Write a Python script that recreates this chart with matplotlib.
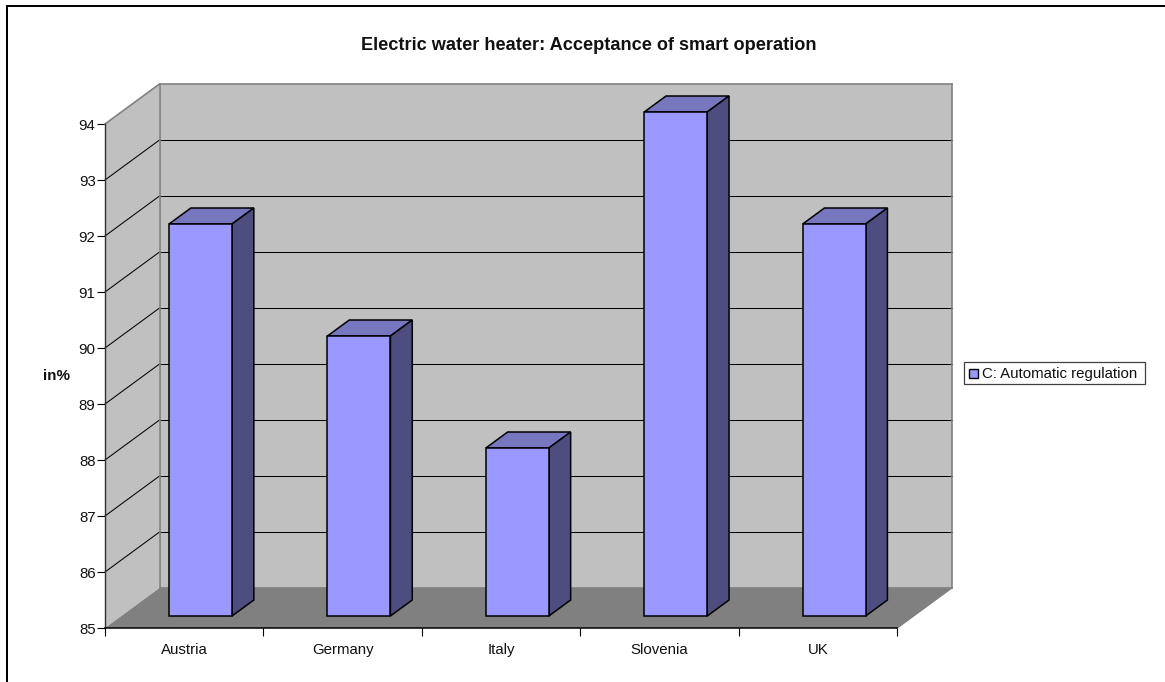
import matplotlib
matplotlib.use("Agg")
import matplotlib.pyplot as plt
from matplotlib.patches import Polygon, Rectangle

plt.rcParams["font.family"] = ["Liberation Sans", "DejaVu Sans"]

countries = ["Austria", "Germany", "Italy", "Slovenia", "UK"]
acceptance = [92, 90, 88, 94, 92]
value_ticks = [85, 86, 87, 88, 89, 90, 91, 92, 93, 94]
title = "Electric water heater: Acceptance of smart operation"
series_name = "C: Automatic regulation"
y_label = "in%"

WALL = "#c0c0c0"
FLOOR = "#808080"
EDGE = "#808080"
BAR_FRONT = "#9999ff"
BAR_TOP = "#7777bf"
BAR_SIDE = "#4d4d80"
TEXT = "#111111"

W, H = 1165, 682
fig = plt.figure(figsize=(W / 100, H / 100), dpi=100, facecolor="white")

# Frame around the chart area, open on the right and at the bottom
frame = fig.add_axes([0, 0, 1, 1], zorder=0)
frame.set_xlim(0, W)
frame.set_ylim(H, 0)
frame.axis("off")
frame.plot([7, 7, W], [H, 6, 6], color="black", lw=1.45, solid_capstyle="butt",
           solid_joinstyle="miter")

# Main axes cover the front plane of the oblique box
left, right, bottom, top = 105, 897, 628, 124
ax = fig.add_axes([left / W, 1 - bottom / H, (right - left) / W, (bottom - top) / H], zorder=1)
ax.set_xlim(0, len(countries))
ax.set_ylim(value_ticks[0], value_ticks[-1])
ax.patch.set_visible(False)

# Depth is an oblique shift: full depth moves 54.5 px right and 40 px up
px_x = len(countries) / (right - left)
px_y = (value_ticks[-1] - value_ticks[0]) / (bottom - top)
DX, DY = 54.5 * px_x, 40 * px_y


def at(x, y, depth):
    return x + depth * DX, y + depth * DY


def face(points, color, z, edge="none", lw=0.0):
    ax.add_patch(Polygon(points, closed=True, facecolor=color, edgecolor=edge, linewidth=lw,
                         joinstyle="miter", zorder=z, clip_on=False))


def segment(a, b, color, lw, z):
    xs, ys = zip(a, b)
    ax.plot(xs, ys, color=color, lw=lw, zorder=z, clip_on=False)


x0, x1 = 0, len(countries)
y0, y1 = value_ticks[0], value_ticks[-1]

# Walls and floor
face([at(x0, y0, 1), at(x1, y0, 1), at(x1, y1, 1), at(x0, y1, 1)], WALL, 1)
face([at(x0, y0, 0), at(x0, y0, 1), at(x0, y1, 1), at(x0, y1, 0)], WALL, 1)
face([at(x0, y0, 0), at(x1, y0, 0), at(x1, y0, 1), at(x0, y0, 1)], FLOOR, 1)

# Gridlines run along the side wall and across the back wall
for v in value_ticks[1:-1]:
    segment(at(x0, v, 0), at(x0, v, 1), "black", 0.75, 2)
    segment(at(x0, v, 1), at(x1, v, 1), "black", 0.75, 2)

# Grey outlines of the box
for a, b in [((x0, y0, 1), (x0, y1, 1)), ((x0, y1, 0), (x0, y1, 1)), ((x0, y1, 1), (x1, y1, 1)),
             ((x1, y1, 1), (x1, y0, 1)), ((x0, y0, 1), (x1, y0, 1)), ((x1, y0, 1), (x1, y0, 0))]:
    segment(at(*a), at(*b), EDGE, 1.2, 3)

# Columns sit between 30% and 70% of the box depth
BAR_WIDTH = 63 * px_x
D_FRONT, D_BACK = 0.30, 0.70
for i, value in enumerate(acceptance):
    a = i + 0.5 - BAR_WIDTH / 2
    b = i + 0.5 + BAR_WIDTH / 2
    outline = dict(edge="black", lw=1.1)
    face([at(a, value, D_FRONT), at(b, value, D_FRONT), at(b, value, D_BACK), at(a, value, D_BACK)],
         BAR_TOP, 4 + i * 0.1, **outline)
    face([at(b, y0, D_FRONT), at(b, y0, D_BACK), at(b, value, D_BACK), at(b, value, D_FRONT)],
         BAR_SIDE, 4 + i * 0.1, **outline)
    face([at(a, y0, D_FRONT), at(b, y0, D_FRONT), at(b, value, D_FRONT), at(a, value, D_FRONT)],
         BAR_FRONT, 4 + i * 0.1, **outline)

# Axis lines and ticks
for side in ("top", "right"):
    ax.spines[side].set_visible(False)
ax.spines["left"].set_color("#303030")
ax.spines["bottom"].set_color("black")
ax.spines["left"].set_linewidth(1.0)
ax.spines["bottom"].set_linewidth(1.1)
ax.spines["left"].set_zorder(6)
ax.spines["bottom"].set_zorder(6)
ax.set_yticks(value_ticks)
ax.set_yticklabels([str(v) for v in value_ticks], fontsize=10.8, color=TEXT)
ax.tick_params(axis="y", length=6, width=0.8, pad=0.8)
ax.set_xticks(range(len(countries) + 1))
ax.set_xticklabels([])
ax.set_xticks([i + 0.5 for i in range(len(countries))], minor=True)
ax.set_xticklabels(countries, minor=True, fontsize=10.8, color=TEXT)
ax.tick_params(axis="x", which="major", length=5.8, width=0.8)
ax.tick_params(axis="x", which="minor", length=0, pad=10.5)

# Title, axis caption and legend
frame.text(589, 45, title, ha="center", va="center", fontsize=13.1, fontweight="bold", color=TEXT)
frame.text(56, 376, y_label, ha="center", va="center", fontsize=10.9, fontweight="bold", color=TEXT)
frame.add_patch(Rectangle((963.5, 362), 181, 22, facecolor="white", edgecolor="#404040", lw=0.9))
frame.add_patch(Rectangle((969, 368.7), 9.3, 9.3, facecolor=BAR_FRONT, edgecolor="black", lw=1.0))
frame.text(982, 374, series_name, ha="left", va="center", fontsize=10.85, color=TEXT)

fig.savefig("out.png", dpi=100)
